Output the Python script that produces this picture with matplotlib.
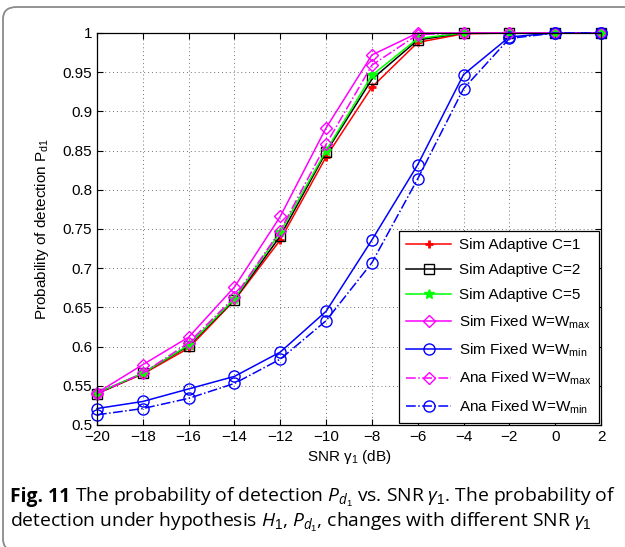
import matplotlib
matplotlib.use("Agg")
import matplotlib.pyplot as plt
from matplotlib.patches import FancyBboxPatch

plt.rcParams['font.family'] = ['Liberation Sans', 'DejaVu Sans']
plt.rcParams['mathtext.fontset'] = 'custom'
plt.rcParams['mathtext.rm'] = 'Liberation Sans'
plt.rcParams['mathtext.it'] = 'Open Sans:italic'
plt.rcParams['mathtext.bf'] = 'Liberation Sans:bold'

# data
snr = [-20, -18, -16, -14, -12, -10, -8, -6, -4, -2, 0, 2]
sim_c1 = [0.540, 0.565, 0.598, 0.659, 0.736, 0.842, 0.931, 0.988, 0.999, 1.0, 1.0, 1.0]
sim_c2 = [0.540, 0.566, 0.601, 0.660, 0.741, 0.848, 0.941, 0.991, 1.0, 1.0, 1.0, 1.0]
sim_c5 = [0.541, 0.566, 0.602, 0.661, 0.746, 0.850, 0.946, 0.993, 1.0, 1.0, 1.0, 1.0]
sim_wmax = [0.541, 0.577, 0.612, 0.676, 0.766, 0.879, 0.972, 1.0, 1.0, 1.0, 1.0, 1.0]
sim_wmin = [0.521, 0.530, 0.546, 0.562, 0.593, 0.645, 0.736, 0.832, 0.947, 0.995, 1.0, 1.0]
ana_wmax = [0.540, 0.566, 0.605, 0.663, 0.748, 0.858, 0.959, 0.998, 1.0, 1.0, 1.0, 1.0]
ana_wmin = [0.513, 0.521, 0.534, 0.553, 0.584, 0.633, 0.707, 0.814, 0.929, 0.993, 1.0, 1.0]

labels = ['Sim Adaptive C=1', 'Sim Adaptive C=2', 'Sim Adaptive C=5',
          r'Sim Fixed W=W$_{\mathrm{max}}$', r'Sim Fixed W=W$_{\mathrm{min}}$',
          r'Ana Fixed W=W$_{\mathrm{max}}$', r'Ana Fixed W=W$_{\mathrm{min}}$']
xticks = [-20, -18, -16, -14, -12, -10, -8, -6, -4, -2, 0, 2]
yticks = [0.5, 0.55, 0.6, 0.65, 0.7, 0.75, 0.8, 0.85, 0.9, 0.95, 1.0]
ytick_labels = ['0.5', '0.55', '0.6', '0.65', '0.7', '0.75', '0.8', '0.85', '0.9', '0.95', '1']

fig = plt.figure(figsize=(6.25, 5.47), dpi=100)

# rounded frame, only the left and top edges fall inside the picture
frame = FancyBboxPatch((3 / 625, -4 / 547), 1.1, 1 + 4 / 547 - 7 / 547,
                       boxstyle="round,pad=0,rounding_size=0.022",
                       transform=fig.transFigure, fill=False,
                       edgecolor='#8a8a8a', linewidth=1.3, clip_on=False)
fig.patches.append(frame)

ax = fig.add_axes([97 / 625, 1 - 425 / 547, 504 / 625, 392 / 547])

lw = 1.1
kw = dict(lw=lw, clip_on=False)
ax.plot(snr, sim_c1, color='red', marker='+', ms=6, mew=2, label=labels[0], **kw)
ax.plot(snr, sim_c2, color='black', marker='s', ms=7, mfc='none', mew=1, label=labels[1], **kw)
ax.plot(snr, sim_c5, color='#00ff00', marker='*', ms=7, label=labels[2], **kw)
ax.plot(snr, sim_wmax, color='magenta', marker='D', ms=6, mfc='none', mew=1, label=labels[3], **kw)
ax.plot(snr, sim_wmin, color='blue', marker='o', ms=8, mfc='none', mew=1, label=labels[4], **kw)
ax.plot(snr, ana_wmax, color='magenta', marker='D', ms=6, mfc='none', mew=1, ls='-.', label=labels[5], **kw)
ax.plot(snr, ana_wmin, color='blue', marker='o', ms=8, mfc='none', mew=1, ls='-.', label=labels[6], **kw)

ax.set_xlim(-20, 2)
ax.set_ylim(0.5, 1.0)
ax.set_xticks(xticks)
ax.set_yticks(yticks)
ax.set_yticklabels(ytick_labels)
ax.tick_params(direction='in', top=True, right=True, length=4, width=0.8, labelsize=11)
ax.grid(True, linestyle=(0, (1, 3)), color='0.45', linewidth=0.7)
for s in ax.spines.values():
    s.set_linewidth(0.9)

ax.set_xlabel(r'SNR γ$_1$ (dB)', fontsize=11, labelpad=3)
ax.set_ylabel(r'Probability of detection P$_{\mathrm{d1}}$', fontsize=11, labelpad=8)

leg = ax.legend(loc='lower right', bbox_to_anchor=(1.0, 0.0), borderaxespad=0.15,
                fontsize=11, handlelength=3.0, labelspacing=0.72, fancybox=False,
                framealpha=1, edgecolor='black', borderpad=0.45, handletextpad=0.5)
leg.get_frame().set_linewidth(0.9)
leg.set_zorder(5)

# caption
cap_font = ['Open Sans', 'DejaVu Sans']
cap_size = 13.9
fig.canvas.draw()
r = fig.canvas.get_renderer()
t1 = fig.text(10 / 625, 1 - 497 / 547, 'Fig. 11', family=cap_font, fontweight='bold',
              fontsize=cap_size, va='center', ha='left')
bb = t1.get_window_extent(renderer=r)
fig.text(bb.x1 / 625 + 5 / 625, 1 - 497 / 547,
         r'The probability of detection $P_{d_1}$ vs. SNR $\gamma_1$. The probability of',
         family=cap_font, fontsize=cap_size, va='center', ha='left')
fig.text(10 / 625, 1 - 522 / 547,
         r'detection under hypothesis $H_1$, $P_{d_1}$, changes with different SNR $\gamma_1$',
         family=cap_font, fontsize=cap_size, va='center', ha='left')

fig.savefig('out.png', dpi=100)
